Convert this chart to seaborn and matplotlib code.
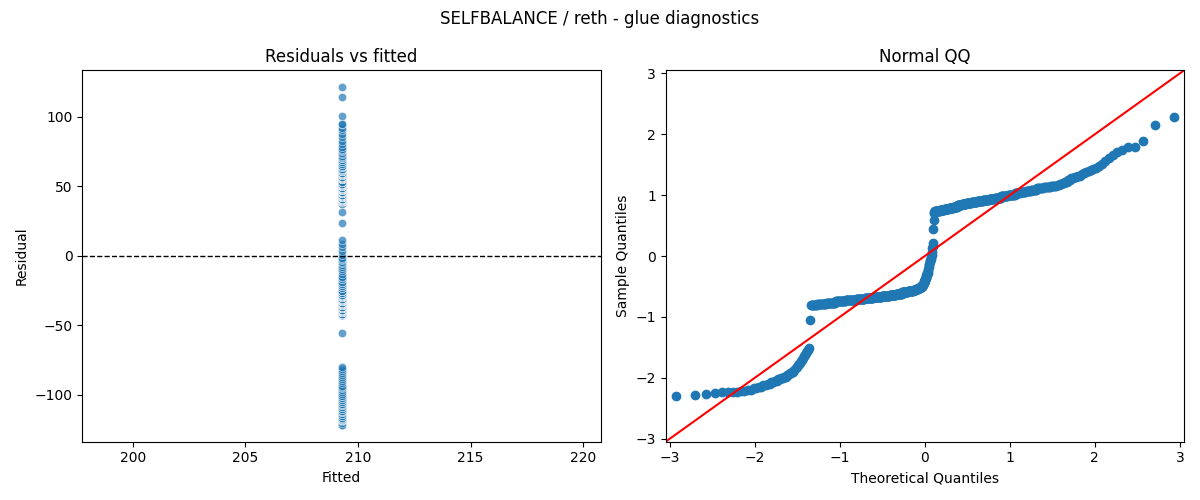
import matplotlib
matplotlib.use("Agg")
import numpy as np
import pandas as pd
import matplotlib.pyplot as plt
import seaborn as sns
from statistics import NormalDist

# model: intercept only, so every fitted value is the same
fitted_value = 209.27

# residuals: distinct levels and how many points sit at each
resid_levels = [
    -121.6, -121.4, -120.6, -119.0, -118.4, -117.6, -116.6, -115.4, -114.1,
    -112.5, -111.3, -110.0, -108.7, -107.6, -106.4,
    -105.1, -103.6, -102.1, -100.7, -99.2,
    -97.7, -96.7, -95.2, -94.3, -93.3,
    -91.8, -90.3, -88.8, -87.4, -85.9, -84.4, -82.9, -81.5, -80.0,
    -55.8,
    -42.6, -41.6, -40.6, -39.6, -38.6,
    -37.6, -36.6, -35.7, -34.7,
    -33.7, -32.7, -31.7, -30.7,
    -29.7, -28.8, -27.8, -26.8, -25.3,
    -23.3, -21.9, -20.4, -18.9, -16.9, -15.0, -13.0,
    -11.0, -9.6, -8.1, -6.6, -5.1, -4.1, -3.2, -2.2, -1.2,
    0.8, 3.7, 6.7, 8.7, 11.1,
    23.4, 31.8, 37.7, 38.7,
    39.2, 40.2, 41.2, 42.2, 43.1, 44.1, 45.1,
    46.1, 47.1, 48.1, 49.1, 50.0, 51.0, 52.0, 53.0,
    55.0, 55.9, 56.9, 57.9, 58.9, 59.9, 60.9,
    61.9, 62.8, 63.8, 64.8, 66.3, 67.8, 68.8, 70.2,
    71.2, 72.2, 73.2, 74.2, 75.2, 76.1, 77.1, 78.1,
    80.6, 83.0, 85.5, 88.0, 90.9,
    92.4, 95.1, 100.5, 114.2, 121.4,
]
resid_counts = [
    1, 1, 1, 1, 4, 2, 2, 2, 2,
    2, 2, 2, 2, 2, 2,
    2, 2, 2, 2, 1,
    1, 1, 1, 1, 1,
    1, 1, 1, 1, 1, 1, 1, 1, 1,
    1,
    8, 12, 14, 17, 20,
    18, 19, 20, 20,
    16, 16, 16, 15,
    7, 6, 6, 5, 4,
    2, 2, 2, 2, 2, 2, 1,
    1, 1, 1, 1, 1, 1, 1, 1, 1,
    1, 1, 1, 1, 1,
    1, 1, 1, 1,
    14, 12, 12, 12, 11, 11, 11,
    13, 13, 13, 13, 12, 12, 12, 12,
    8, 8, 7, 7, 7, 7, 6,
    2, 2, 2, 2, 2, 2, 2, 2,
    1, 1, 1, 1, 1, 1, 1, 1,
    1, 1, 1, 1, 1,
    1, 2, 1, 1, 1,
]

resid = np.repeat(np.array(resid_levels, dtype=float), resid_counts)
df = pd.DataFrame({"fitted": fitted_value, "resid": resid})

# normal QQ: standardised sample vs normal quantiles at i/(n+1)
n = len(resid)
sample_q = np.sort((resid - resid.mean()) / resid.std())
theo_q = np.array([NormalDist().inv_cdf(i / (n + 1)) for i in range(1, n + 1)])
qq = pd.DataFrame({"theoretical": theo_q, "sample": sample_q})

fig, axes = plt.subplots(1, 2, figsize=(12, 5), dpi=100)

ax = axes[0]
sns.scatterplot(data=df, x="fitted", y="resid", alpha=0.7, ax=ax)
ax.axhline(0, color="black", linestyle="--", linewidth=1)
ax.set_title("Residuals vs fitted")
ax.set_xlabel("Fitted")
ax.set_ylabel("Residual")

ax = axes[1]
sns.scatterplot(data=qq, x="theoretical", y="sample", s=36, color="#1f77b4",
                edgecolor="#1f77b4", linewidth=1, ax=ax)
lim = 3.05
ax.plot([-lim, lim], [-lim, lim], color="red", linewidth=1.5)
ax.set_xlim(-lim, lim)
ax.set_ylim(-lim, lim)
ax.set_title("Normal QQ")
ax.set_xlabel("Theoretical Quantiles")
ax.set_ylabel("Sample Quantiles")

fig.suptitle("SELFBALANCE / reth - glue diagnostics")
plt.tight_layout()
plt.savefig("out.png", dpi=100)
plt.close()
